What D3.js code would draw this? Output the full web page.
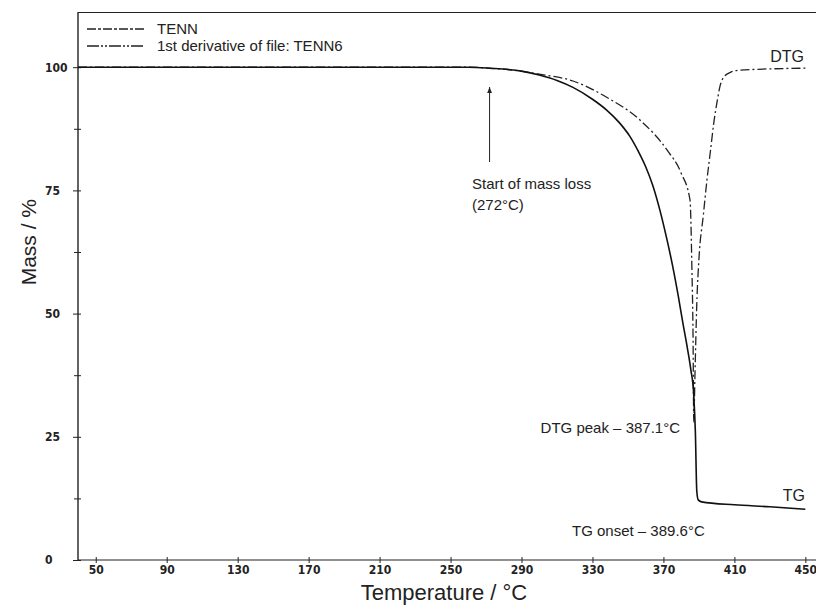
<!DOCTYPE html>
<html>
<head>
<meta charset="utf-8">
<script src="https://cdn.jsdelivr.net/npm/d3@7"></script>
<style>
  body { margin: 0; background: #fff; }
  .tick text { font-family: "Liberation Sans Narrow", "DejaVu Sans Condensed", sans-serif; font-weight: bold; font-size: 12px; fill: #222; }
  .lbl { font-family: "Liberation Sans", Arial, sans-serif; fill: #222; }
</style>
</head>
<body>
<div class="chart"></div>
<script>
// TG curve (mass %)
const tgTemp = [40, 260, 272, 290, 300, 310, 319, 330, 338, 345, 351, 356, 360, 364, 368, 372, 375, 378.4, 381, 383.5, 385.5, 387, 388, 388.8, 389.6, 391.5, 410, 430, 450]
const tgMass = [100, 100, 99.8, 99.2, 98.4, 97.3, 95.9, 93.5, 91.3, 88.8, 86, 82.8, 79.8, 76, 71, 65, 60, 53.5, 48, 43, 38.5, 34, 26, 14, 12.2, 11.8, 11.2, 10.8, 10.3]

// DTG curve, drawn on the same axis
const dtgTemp = [40, 260, 272, 285, 300, 319, 338, 357, 372, 380, 385, 386, 386.7, 387.1, 387.8, 388.8, 390, 392.5, 394.5, 396.5, 398.5, 400.4, 402, 404, 408, 413, 450]
const dtgValue = [100, 100, 99.8, 99.4, 98.6, 97.2, 93.9, 89.2, 83.2, 78.5, 73, 60, 45, 28, 38, 52, 61, 70, 77, 83, 89, 93.3, 96.3, 98, 99, 99.4, 99.8]

const xTicks = [50, 90, 130, 170, 210, 250, 290, 330, 370, 410, 450]
const yTicks = [0, 25, 50, 75, 100]
const yMinor = [12.5, 37.5, 62.5, 87.5]

const legendNames = ['TENN', '1st derivative of file: TENN6']

const W = 816, H = 608
const mLeft = 78, mTop = 12, mBottom = 560

const svg = d3.select('.chart').append('svg')
    .attr('width', W)
    .attr('height', H)

const x = d3.scaleLinear().domain([40, 456]).range([mLeft, W])
const y = d3.scaleLinear().domain([0, 111.2]).range([mBottom, mTop])

// frame: top line and left axis
svg.append('line')
    .attr('x1', mLeft).attr('x2', W).attr('y1', mTop + 0.5).attr('y2', mTop + 0.5)
    .attr('stroke', '#222').attr('stroke-width', 1.2)

// y axis
const yAxis = svg.append('g')
    .attr('transform', `translate(${mLeft},0)`)
    .call(d3.axisLeft(y).tickValues(yTicks).tickSize(4).tickPadding(0))
yAxis.select('.domain').attr('d', `M0,${mTop}V${mBottom}`).attr('stroke', '#222').attr('stroke-width', 1.4)
yAxis.selectAll('.tick line').attr('x1', 3).attr('x2', -5).attr('stroke', '#222')
yAxis.selectAll('.tick text').attr('text-anchor', 'start').attr('x', 45 - mLeft)

svg.append('g')
    .attr('transform', `translate(${mLeft},0)`)
    .call(d3.axisLeft(y).tickValues(yMinor).tickSize(4).tickFormat(''))
    .call(g => g.select('.domain').remove())
    .selectAll('.tick line').attr('x1', 3).attr('x2', -4).attr('stroke', '#222')

// x axis
const xAxis = svg.append('g')
    .attr('transform', `translate(0,${mBottom})`)
    .call(d3.axisBottom(x).tickValues(xTicks).tickSize(3).tickPadding(2))
xAxis.select('.domain').attr('d', `M${mLeft},0H${W}`).attr('stroke', '#222').attr('stroke-width', 1.2)
xAxis.selectAll('.tick line').attr('y1', -3).attr('y2', 3).attr('stroke', '#222')

// curves
const tg = tgTemp.map((t, i) => [t, tgMass[i]])
const dtg = dtgTemp.map((t, i) => [t, dtgValue[i]])
const line = d3.line().x(d => x(d[0])).y(d => y(d[1])).curve(d3.curveMonotoneX)

svg.append('path')
    .attr('d', line(dtg))
    .attr('fill', 'none')
    .attr('stroke', '#222')
    .attr('stroke-width', 1.3)
    .attr('stroke-dasharray', '9,3,2,3')

svg.append('path')
    .attr('d', line(tg))
    .attr('fill', 'none')
    .attr('stroke', '#111')
    .attr('stroke-width', 1.6)

// legend
const legendDash = ['9,2,3,2', '12,2,2,2,2,2']
legendNames.forEach((name, i) => {
    const ly = 29 + i * 17
    svg.append('line')
        .attr('x1', 87).attr('x2', 145).attr('y1', ly).attr('y2', ly)
        .attr('stroke', '#222').attr('stroke-width', 1.3)
        .attr('stroke-dasharray', legendDash[i])
    svg.append('text').attr('class', 'lbl')
        .attr('x', 157).attr('y', ly + 5)
        .attr('font-size', 15)
        .text(name)
})

// annotations
svg.append('defs').append('marker')
    .attr('id', 'arr').attr('viewBox', '0 0 10 10')
    .attr('refX', 10).attr('refY', 5)
    .attr('markerWidth', 6).attr('markerHeight', 6)
    .attr('orient', 'auto')
  .append('path').attr('d', 'M0,1L10,5L0,9Z').attr('fill', '#222')

svg.append('line')
    .attr('x1', x(272)).attr('x2', x(272))
    .attr('y1', 162).attr('y2', 87)
    .attr('stroke', '#222').attr('stroke-width', 1)
    .attr('marker-end', 'url(#arr)')

const notes = [
    {text: 'Start of mass loss', x: 472, y: 189, anchor: 'start'},
    {text: '(272°C)', x: 472, y: 210, anchor: 'start'},
    {text: 'DTG', x: 804, y: 62, anchor: 'end', size: 16},
    {text: 'TG', x: 805, y: 501, anchor: 'end', size: 16},
    {text: 'DTG peak – 387.1°C', x: 680, y: 433, anchor: 'end'},
    {text: 'TG onset – 389.6°C', x: 572, y: 536, anchor: 'start'}
]
notes.forEach(n => {
    svg.append('text').attr('class', 'lbl')
        .attr('x', n.x).attr('y', n.y)
        .attr('text-anchor', n.anchor)
        .attr('font-size', n.size || 15)
        .text(n.text)
})

// axis titles
svg.append('text').attr('class', 'lbl')
    .attr('x', 444).attr('y', 600)
    .attr('text-anchor', 'middle')
    .attr('font-size', 22)
    .text('Temperature / °C')

svg.append('text').attr('class', 'lbl')
    .attr('transform', `translate(36,${y(64.5)}) rotate(-90)`)
    .attr('text-anchor', 'middle')
    .attr('font-size', 21)
    .text('Mass / %')
</script>
</body>
</html>
